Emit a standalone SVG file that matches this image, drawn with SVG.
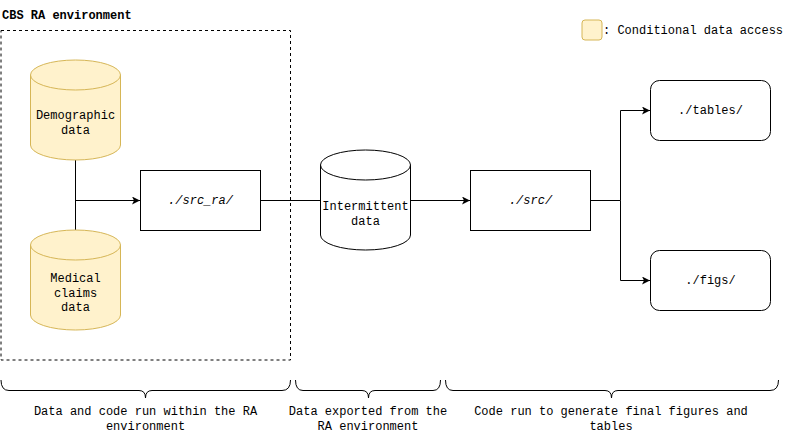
<svg xmlns="http://www.w3.org/2000/svg" width="791" height="434" viewBox="0 0 791 434">
<defs>
<marker id="arr" markerWidth="10" markerHeight="10" refX="8" refY="4" orient="auto" markerUnits="userSpaceOnUse">
<path d="M0,0 L8,4 L0,8 L2,4 Z" fill="#000"/>
</marker>
<style>
text{font-family:"Liberation Mono","DejaVu Sans Mono",monospace;font-size:12px;fill:#000}
.c{text-anchor:middle}
.it{font-style:italic}
.db{fill:#fff2cc;stroke:#d6b656;stroke-width:1}
.wb{fill:#fff;stroke:#000;stroke-width:1}
.ln{fill:none;stroke:#000;stroke-width:1}
</style>
</defs>
<rect width="791" height="434" fill="#fff"/>
<g id="env">
<text x="2" y="19" style="font-weight:bold">CBS RA environment</text>
<rect x="1" y="30.5" width="289.5" height="329.5" fill="none" stroke="#000" stroke-dasharray="3 3"/>
</g>
<g id="legend">
<rect x="582" y="20" width="20" height="20" rx="3" class="db"/>
<text x="603" y="34">: Conditional data access</text>
</g>
<g id="connectors">
<path class="ln" d="M75.5,160 V230"/>
<path class="ln" d="M75.5,200.5 H140" marker-end="url(#arr)"/>
<path class="ln" d="M260,200.5 H320"/>
<path class="ln" d="M410,200.5 H470" marker-end="url(#arr)"/>
<path class="ln" d="M590,200.5 H620.5 V110.5 H650" marker-end="url(#arr)"/>
<path class="ln" d="M620.5,200.5 V280.5 H650" marker-end="url(#arr)"/>
</g>
<g id="demographic">
<path class="db" d="M30.5,75 A45,15 0 0 1 120.5,75 V145 A45,15 0 0 1 30.5,145 Z"/>
<path class="db" d="M30.5,75 A45,15 0 0 0 120.5,75"/>
<text x="75.5" y="119" class="c">Demographic</text>
<text x="75.5" y="134" class="c">data</text>
</g>
<g id="medical">
<path class="db" d="M30.5,245 A45,15 0 0 1 120.5,245 V315 A45,15 0 0 1 30.5,315 Z"/>
<path class="db" d="M30.5,245 A45,15 0 0 0 120.5,245"/>
<text x="75.5" y="282" class="c">Medical</text>
<text x="75.5" y="297" class="c">claims</text>
<text x="75.5" y="311" class="c">data</text>
</g>
<g id="src_ra">
<rect x="140.5" y="170.5" width="120" height="60" class="wb"/>
<text x="200.5" y="204" class="c it">./src_ra/</text>
</g>
<g id="intermittent">
<path class="wb" d="M320.5,165 A45,15 0 0 1 410.5,165 V235 A45,15 0 0 1 320.5,235 Z"/>
<path class="wb" d="M320.5,165 A45,15 0 0 0 410.5,165"/>
<text x="365.5" y="210" class="c">Intermittent</text>
<text x="365.5" y="225" class="c">data</text>
</g>
<g id="src">
<rect x="470.5" y="170.5" width="120" height="60" class="wb"/>
<text x="530.5" y="204" class="c it">./src/</text>
</g>
<g id="tables">
<rect x="650.5" y="80.5" width="120" height="60" rx="9" class="wb"/>
<text x="710.5" y="114" class="c">./tables/</text>
</g>
<g id="figs">
<rect x="650.5" y="250.5" width="120" height="60" rx="9" class="wb"/>
<text x="710.5" y="284" class="c">./figs/</text>
</g>
<g id="brace1">
<path class="ln" d="M1,380 Q1,390.5 9,390.5 H139 Q145.5,390.5 145.5,398 Q145.5,390.5 152,390.5 H282 Q290.5,390.5 290.5,380"/>
<text x="145.5" y="415" class="c">Data and code run within the RA</text>
<text x="145.5" y="430" class="c">environment</text>
</g>
<g id="brace2">
<path class="ln" d="M295.5,380 Q295.5,390.5 303,390.5 H362 Q368.5,390.5 368.5,398 Q368.5,390.5 375,390.5 H433 Q440.5,390.5 440.5,380"/>
<text x="368" y="415" class="c">Data exported from the</text>
<text x="368" y="430" class="c">RA environment</text>
</g>
<g id="brace3">
<path class="ln" d="M445.5,380 Q445.5,390.5 453,390.5 H605 Q611.5,390.5 611.5,398 Q611.5,390.5 618,390.5 H770 Q778.5,390.5 778.5,380"/>
<text x="611" y="415" class="c">Code run to generate final figures and</text>
<text x="611" y="430" class="c">tables</text>
</g>
</svg>
